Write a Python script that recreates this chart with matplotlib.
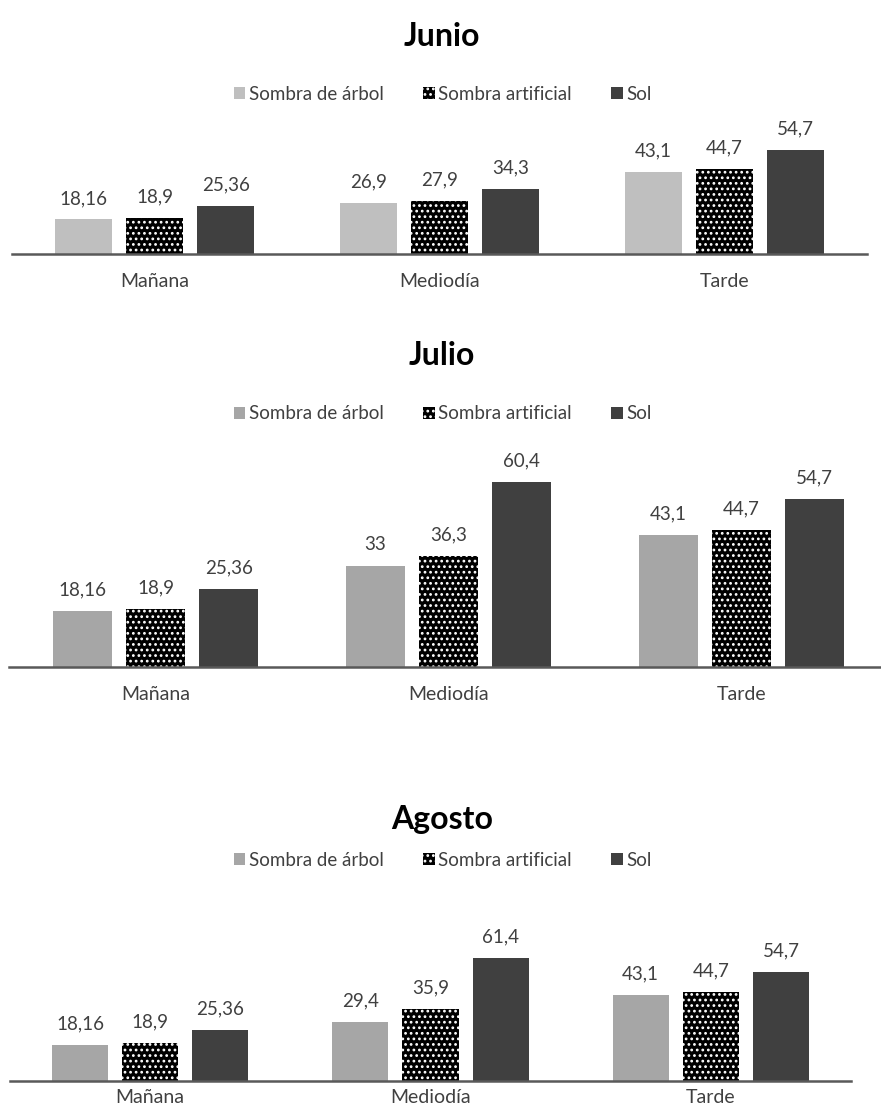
import numpy as np
import matplotlib.pyplot as plt

# ======================================================
# DATA
# ======================================================
periodos = ["Mañana", "Mediodía", "Tarde"]
series = ["Sombra de árbol", "Sombra artificial", "Sol"]

junio_arbol = [18.16, 26.9, 43.1]
junio_artificial = [18.9, 27.9, 44.7]
junio_sol = [25.36, 34.3, 54.7]

julio_arbol = [18.16, 33, 43.1]
julio_artificial = [18.9, 36.3, 44.7]
julio_sol = [25.36, 60.4, 54.7]

agosto_arbol = [18.16, 29.4, 43.1]
agosto_artificial = [18.9, 35.9, 44.7]
agosto_sol = [25.36, 61.4, 54.7]

# ======================================================
# STYLE
# ======================================================
plt.rcParams["font.family"] = ["Lato", "DejaVu Sans"]
plt.rcParams["hatch.linewidth"] = 1.2
text_col = "#404040"
sol_col = "#404040"

W, H = 881, 1117
fig = plt.figure(figsize=(W / 100, H / 100), dpi=100)


def fmt(v):
    s = f"{v:g}"
    return s.replace(".", ",")


def px_axes(left, top, width, height):
    # pixel box (top-left origin) -> figure fraction
    return fig.add_axes([left / W, 1 - (top + height) / H, width / W, height / H])


def draw_chart(box, title, title_y, legend_y, arbol, artificial, sol, arbol_col, scale, pad=14):
    left, baseline, width = box
    ymax = 70
    height = ymax * scale
    ax = px_axes(left, baseline - height, width, height)
    x = np.arange(len(periodos))
    w = 0.2
    step = 0.25

    b1 = ax.bar(x - step, arbol, w, color=arbol_col, label=series[0])
    b2 = ax.bar(x, artificial, w, color="black", edgecolor="white", linewidth=0,
                hatch="...", label=series[1])
    b3 = ax.bar(x + step, sol, w, color=sol_col, label=series[2])

    for bars, vals in [(b1, arbol), (b2, artificial), (b3, sol)]:
        for rect, v in zip(bars, vals):
            ax.annotate(fmt(v), (rect.get_x() + rect.get_width() / 2, rect.get_height()),
                        xytext=(0, 9), textcoords="offset points",
                        ha="center", va="bottom", fontsize=13.5, color=text_col)

    ax.set_xlim(-0.5, 2.5)
    ax.set_ylim(0, ymax)
    ax.set_xticks(x)
    ax.set_xticklabels(periodos, fontsize=14, color=text_col)
    ax.tick_params(axis="x", length=0, pad=pad)
    ax.set_yticks([])
    for s in ["top", "right", "left"]:
        ax.spines[s].set_visible(False)
    ax.spines["bottom"].set_color("#595959")
    ax.spines["bottom"].set_linewidth(1.8)
    ax.patch.set_alpha(0)

    fig.text(442 / W, 1 - title_y / H, title, ha="center", va="center",
             fontsize=23, fontweight="bold", color="black")

    handles = [b1, b2, b3]
    fig.legend(handles, series, loc="center", bbox_to_anchor=(443 / W, 1 - legend_y / H),
               ncol=3, frameon=False, fontsize=13.5, handlelength=0.6, handleheight=0.6,
               handletextpad=0.2, columnspacing=2.1, labelcolor=text_col)


draw_chart((12, 254, 855), "Junio", 36, 94,
           junio_arbol, junio_artificial, junio_sol, "#bfbfbf", 1.9)
draw_chart((9, 667, 879), "Julio", 355, 414,
           julio_arbol, julio_artificial, julio_sol, "#a6a6a6", 3.07)
draw_chart((10, 1081, 841), "Agosto", 819, 860,
           agosto_arbol, agosto_artificial, agosto_sol, "#a6a6a6", 2.0, pad=6)

fig.savefig("out.png", dpi=100, facecolor="white")
